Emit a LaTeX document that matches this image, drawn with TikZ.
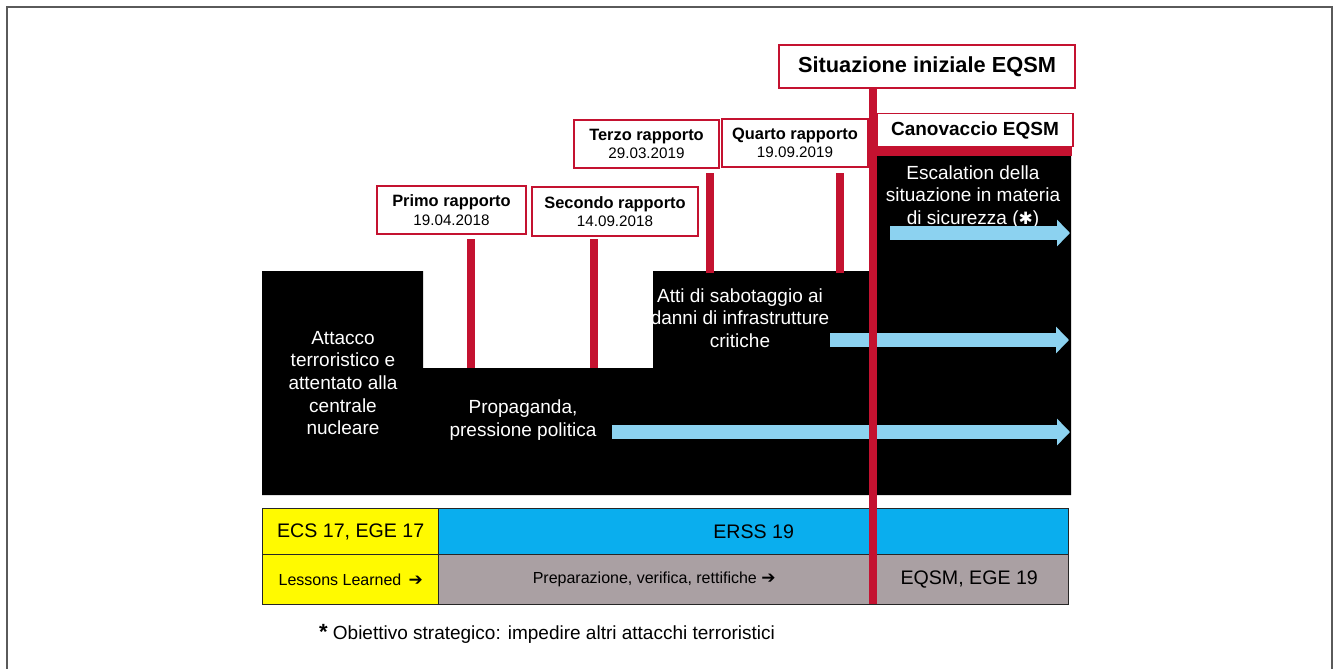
\documentclass[tikz,border=0pt]{standalone}
\usepackage{fontspec}
\setmainfont{Liberation Sans}
\newfontfamily\dejavu{DejaVu Sans}
\usetikzlibrary{arrows.meta}
\definecolor{myred}{RGB}{196,18,48}
\definecolor{arrowblue}{RGB}{140,210,240}
\definecolor{cellblue}{RGB}{10,174,238}
\definecolor{cellyellow}{RGB}{255,250,0}
\definecolor{cellgray}{RGB}{170,160,163}
\definecolor{framegray}{RGB}{90,90,90}
\begin{document}
\begin{tikzpicture}[x=0.5pt,y=-0.5pt,
  repbox/.style={draw=myred, line width=0.7pt, fill=white, align=center, inner sep=0pt},
  repfont/.style={font=\fontsize{8.2}{9.3}\selectfont},
  bodytext/.style={text=white, align=center, inner sep=0pt, font=\fontsize{9.5}{11.3}\selectfont},
  tickline/.style={myred, line width=4pt},
  flow/.style={arrowblue, line width=7pt, -{Triangle[length=6.5pt,width=13pt]}},
  cell/.style={draw=black!85, line width=0.7pt, inner sep=0pt, anchor=north west, align=center}]
\useasboundingbox (0,0) rectangle (1334,669);
% frame
\draw[framegray, line width=1pt] (7,680) -- (7,7) -- (1332,7) -- (1332,680);
% black background shape
\fill[black] (262,271) -- (423,271) -- (423,368) -- (653,368) -- (653,271) -- (873,271)
  -- (873,155) -- (1071,155) -- (1071,495) -- (262,495) -- cycle;
% report boxes
\node[repbox, repfont, minimum width=74.5pt, minimum height=24pt] (primo) at (451.5,210)
  {\textbf{Primo rapporto}\\{\fontsize{7.6}{9.3}\selectfont 19.04.2018}};
\node[repbox, repfont, minimum width=83pt, minimum height=24.5pt] (secondo) at (615,211.5)
  {\textbf{Secondo rapporto}\\{\fontsize{7.6}{9.3}\selectfont 14.09.2018}};
\node[repbox, repfont, minimum width=72.5pt, minimum height=24pt] (terzo) at (646.5,144)
  {\textbf{Terzo rapporto}\\{\fontsize{7.6}{9.3}\selectfont 29.03.2019}};
\node[repbox, repfont, minimum width=73pt, minimum height=24pt] (quarto) at (795,143)
  {\textbf{Quarto rapporto}\\{\fontsize{7.6}{9.3}\selectfont 19.09.2019}};
\node[repbox, minimum width=148pt, minimum height=21.5pt, font=\fontsize{10.9}{12}\selectfont\bfseries] (sit) at (927,66.5)
  {Situazione iniziale EQSM};
\node[repbox, minimum width=98pt, minimum height=16.5pt, font=\fontsize{9.5}{11}\selectfont\bfseries] (canov) at (975,130)
  {Canovaccio EQSM};
\fill[myred] (canov.south west) rectangle ++(196,9);
% ticks
\coordinate (t1a) at (471,239); \coordinate (t1b) at (471,368);
\coordinate (t2a) at (594,239); \coordinate (t2b) at (594,368);
\coordinate (t3a) at (710,173); \coordinate (t3b) at (710,273);
\coordinate (t4a) at (840,173); \coordinate (t4b) at (840,273);
\draw[tickline] (t1a) -- (t1b);
\draw[tickline] (t2a) -- (t2b);
\draw[tickline] (t3a) -- (t3b);
\draw[tickline] (t4a) -- (t4b);
% body texts
\node[bodytext] (attacco) at (343,383) {Attacco\\terroristico e\\attentato alla\\centrale\\nucleare};
\node[bodytext] (propa) at (523,420) {Propaganda,\\pressione politica};
\node[bodytext] (atti) at (740,318) {Atti di sabotaggio ai\\danni di infrastrutture\\critiche};
\node[bodytext] (escal) at (973,197) {Escalation della\\situazione in materia\\di sicurezza ({\dejavu\fontsize{8.5}{10}\selectfont ✱})};
% flow arrows
\coordinate (a1s) at (612,432); \coordinate (a1e) at (1070,432);
\coordinate (a2s) at (830,340); \coordinate (a2e) at (1069,340);
\coordinate (a3s) at (890,233); \coordinate (a3e) at (1070,233);
\draw[flow] (a1s) -- (a1e);
\draw[flow] (a2s) -- (a2e);
\draw[flow] (a3s) -- (a3e);
% table
\node[cell, fill=cellyellow, minimum width=88pt, minimum height=23pt, font=\fontsize{9.8}{11}\selectfont] (ecs) at (262,508) {ECS 17, EGE 17};
\node[cell, fill=cellyellow, minimum width=88pt, minimum height=25pt, font=\fontsize{8}{10}\selectfont] (lessons) at (262,554) {Lessons Learned \,{\dejavu\bfseries\fontsize{8.5}{10}\selectfont ➔}};
\node[cell, fill=cellblue, minimum width=315pt, minimum height=23pt, font=\fontsize{9.8}{11}\selectfont] (erss) at (438,508) {ERSS 19};
\node[cell, fill=cellgray, minimum width=215.5pt, minimum height=25pt, font=\fontsize{8}{10}\selectfont] (prep) at (438,554) {Preparazione, verifica, rettifiche {\dejavu\bfseries\fontsize{8.5}{10}\selectfont ➔}};
\node[cell, fill=cellgray, minimum width=99.5pt, minimum height=25pt, font=\fontsize{9.8}{11}\selectfont] (eqsm) at (869,554) {EQSM, EGE 19};
% main red line
\coordinate (mtop) at (873,88);
\coordinate (mbot) at (873,604);
\draw[myred, line width=4pt] (mtop) -- (mbot);
% footnote
\node[anchor=west, font=\fontsize{9.5}{11}\selectfont] (note) at (312,634) {{\bfseries\fontsize{11}{11}\selectfont *} Obiettivo strategico: impedire altri attacchi terroristici};
\end{tikzpicture}
\end{document}
